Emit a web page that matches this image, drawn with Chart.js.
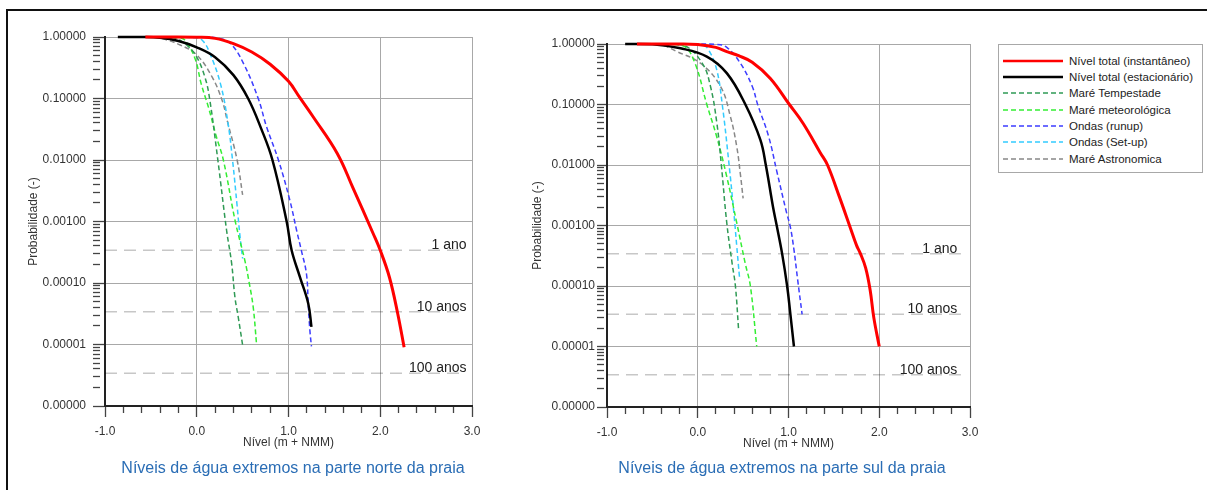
<!DOCTYPE html>
<html><head><meta charset="utf-8">
<script src="https://cdn.jsdelivr.net/npm/chart.js@4.4.1/dist/chart.umd.min.js"></script>
<style>
html,body{margin:0;padding:0;background:#fff;}
body{width:1207px;height:490px;position:relative;overflow:hidden;font-family:"Liberation Sans",Arial,sans-serif;}
#frameL{position:absolute;left:6px;top:9px;width:2px;height:481px;background:#111;}
#frameT{position:absolute;left:6px;top:9px;width:1201px;height:2px;background:#111;}
canvas{position:absolute;}
.cap{position:absolute;top:459px;line-height:18px;font-size:16px;color:#2a6db5;text-align:center;white-space:nowrap;}
#legend{position:absolute;left:998px;top:44px;width:205px;height:129px;border:1px solid #a8a8a8;box-sizing:border-box;}
.row{position:absolute;left:4px;height:16px;display:flex;align-items:center;font-size:11.5px;color:#222;white-space:nowrap;}
.row svg{margin-right:6px;display:block;}
</style></head>
<body>
<div id="frameL"></div><div id="frameT"></div>
<canvas id="cNorte" width="490" height="440" style="left:0px;top:20px"></canvas>
<canvas id="cSul" width="490" height="440" style="left:500px;top:20px"></canvas>
<div class="cap" style="left:0px;width:586px">Níveis de água extremos na parte norte da praia</div>
<div class="cap" style="left:500px;width:564px">Níveis de água extremos na parte sul da praia</div>
<div id="legend"></div>
<script>
// ---------- DATA ----------
const seriesNames = ['Nível total (instantâneo)','Nível total (estacionário)','Maré Tempestade','Maré meteorológica','Ondas (runup)','Ondas (Set-up)','Maré Astronomica'];

// Parte norte: [nível (m + NMM), probabilidade]
const norteInstantaneo = [[-0.56,1.0],[-0.3,0.9995],[0.0,0.99],[0.2,0.95],[0.4,0.78],[0.6,0.57],[0.8,0.36],[1.0,0.19],[1.12,0.105],[1.27,0.05],[1.53,0.0129],[1.7,0.0036],[1.92,0.00065],[2.0,0.00034],[2.1,0.000124],[2.19,0.000032],[2.26,0.000009]];
const norteEstacionario = [[-0.86,1.0],[-0.6,0.999],[-0.4,0.97],[-0.2,0.86],[0.0,0.68],[0.2,0.47],[0.4,0.24],[0.56,0.1],[0.7,0.033],[0.825,0.01],[0.98,0.001],[1.034,0.00034],[1.124,0.000126],[1.215,0.0000465],[1.25,0.0000194]];
const norteTempestade = [[-0.45,1.0],[-0.25,0.97],[-0.11,0.74],[0.0,0.47],[0.09,0.22],[0.14,0.1],[0.23,0.01],[0.325,0.00072],[0.38,0.00021],[0.416,0.000059],[0.452,0.000028],[0.5,0.0000098]];
const norteMeteorologica = [[-0.35,1.0],[-0.22,0.98],[-0.13,0.89],[-0.02,0.45],[0.05,0.17],[0.13,0.07],[0.21,0.025],[0.29,0.01],[0.42,0.001],[0.525,0.00023],[0.572,0.0001],[0.615,0.000041],[0.652,0.00001]];
const norteRunup = [[-0.1,1.0],[0.1,0.995],[0.25,0.95],[0.37,0.78],[0.51,0.37],[0.67,0.1],[0.76,0.035],[0.89,0.01],[1.015,0.0022],[1.09,0.0007],[1.14,0.00034],[1.196,0.00014],[1.215,0.000046],[1.233,0.000017],[1.25,0.0000093]];
const norteSetup = [[-0.3,1.0],[0.0,0.97],[0.07,0.85],[0.144,0.54],[0.26,0.17],[0.34,0.04],[0.39,0.01],[0.44,0.0018],[0.47,0.0006],[0.5,0.00025]];
const norteAstronomica = [[-0.55,1.0],[-0.4,0.96],[-0.18,0.74],[0.0,0.51],[0.17,0.22],[0.28,0.09],[0.33,0.045],[0.44,0.01],[0.5,0.0027]];

// Parte sul
const sulInstantaneo = [[-0.67,1.0],[-0.2,0.999],[0.0,0.985],[0.2,0.88],[0.32,0.75],[0.45,0.64],[0.6,0.5],[0.8,0.27],[1.01,0.1],[1.16,0.049],[1.35,0.016],[1.43,0.01],[1.56,0.003],[1.68,0.00093],[1.75,0.00047],[1.79,0.00035],[1.85,0.0002],[1.9,0.000085],[1.94,0.00003],[2.0,0.00001]];
const sulEstacionario = [[-0.8,1.0],[-0.5,0.995],[-0.19,0.85],[0.1,0.62],[0.32,0.33],[0.525,0.1],[0.69,0.026],[0.75,0.01],[0.83,0.002],[0.87,0.001],[0.93,0.00034],[0.985,0.0001],[1.02,0.000035],[1.06,0.00001]];
const sulTempestade = [[-0.4,1.0],[-0.15,0.95],[0.05,0.48],[0.14,0.2],[0.21,0.05],[0.26,0.01],[0.32,0.0011],[0.38,0.00023],[0.415,0.0001],[0.45,0.000019]];
const sulMeteorologica = [[-0.35,1.0],[-0.15,0.92],[-0.03,0.48],[0.1,0.1],[0.21,0.029],[0.32,0.0064],[0.43,0.0011],[0.525,0.00023],[0.58,0.0001],[0.65,0.00001]];
const sulRunup = [[-0.05,1.0],[0.2,0.99],[0.32,0.88],[0.47,0.48],[0.6,0.2],[0.66,0.1],[0.78,0.03],[0.87,0.008],[0.98,0.0016],[1.02,0.00095],[1.06,0.0004],[1.1,0.00013],[1.15,0.000034]];
const sulSetup = [[-0.2,1.0],[0.05,0.97],[0.12,0.8],[0.21,0.37],[0.27,0.1],[0.34,0.012],[0.4,0.0015],[0.43,0.00045],[0.46,0.00014]];
const sulAstronomica = [[-0.55,1.0],[-0.4,0.97],[-0.23,0.75],[0.03,0.48],[0.25,0.2],[0.36,0.063],[0.43,0.02],[0.47,0.007],[0.5,0.0028]];

// Períodos de retorno
const returnLabels = ['1 ano','10 anos','100 anos'];
const returnProb = [3.42e-4, 3.42e-5, 3.42e-6];

// Ticks
const yTickValues = [1, 0.1, 0.01, 0.001, 0.0001, 0.00001, 0.000001];
const xTickValues = [-1.0,-0.8,-0.6,-0.4,-0.2,0.0,0.2,0.4,0.6,0.8,1.0,1.2,1.4,1.6,1.8,2.0,2.2,2.4,2.6,2.8,3.0];

// ---------- STYLE ----------
const styles = [
  {color:'#ff0000', width:3,   dash:[]},
  {color:'#000000', width:2.5, dash:[]},
  {color:'#2f9a55', width:1.5, dash:[5,3]},
  {color:'#33ee33', width:1.5, dash:[5,3]},
  {color:'#3d3dff', width:1.5, dash:[5,3]},
  {color:'#33ccff', width:1.5, dash:[5,3]},
  {color:'#888888', width:1.5, dash:[5,3]}
];
const FONT = '"Liberation Sans", Arial, sans-serif';
Chart.defaults.font.family = FONT;

const yAllTicks = [];
yTickValues.slice(1).forEach(d => { for (let k = 1; k <= 9; k++) yAllTicks.push(k * d); });
yAllTicks.push(1);

function isDecade(v){ const l = Math.log10(v); return Math.abs(l - Math.round(l)) < 1e-6; }
function isInt(v){ return Math.abs(v - Math.round(v)) < 1e-6; }

const periodPlugin = {
  id: 'periods',
  afterDatasetsDraw(chart, args, opts){
    const {ctx, scales:{x, y}} = chart;
    ctx.save();
    ctx.font = '14px ' + FONT;
    ctx.fillStyle = '#222';
    ctx.textAlign = 'right';
    ctx.textBaseline = 'alphabetic';
    returnLabels.forEach((t, i) => {
      ctx.fillText(t, x.getPixelForValue(opts.labelX), y.getPixelForValue(returnProb[i]) - 1);
    });
    ctx.restore();
  }
};

function makeChart(id, series, cfg){
  const datasets = series.map((pts, i) => ({
    label: seriesNames[i],
    data: pts.map(([x, y]) => ({x, y})),
    borderColor: styles[i].color,
    borderWidth: styles[i].width,
    borderDash: styles[i].dash,
    pointRadius: 0,
    fill: false,
    tension: 0.4,
    clip: false
  }));
  returnProb.forEach(p => datasets.push({
    label: 'ret', data: [{x:-1, y:p}, {x:2.9, y:p}],
    borderColor: 'rgba(0,0,0,0.22)', borderWidth: 1.5, borderDash: [12,7],
    pointRadius: 0, fill: false, tension: 0
  }));
  new Chart(document.getElementById(id), {
    type: 'line',
    data: {datasets},
    plugins: [periodPlugin],
    options: {
      responsive: false, animation: false, devicePixelRatio: 1,
      layout: {padding: cfg.padding},
      plugins: {legend: {display: false}, tooltip: {enabled: false}, periods: {labelX: cfg.labelX}},
      scales: {
        x: {
          type: 'linear', min: -1, max: 3,
          afterBuildTicks: s => { s.ticks = xTickValues.map(v => ({value: v})); },
          afterFit: s => { s.height = 44; },
          ticks: {autoSkip: false, maxRotation: 0, padding: 7, font: {size: 12}, color: '#333',
                  callback: v => isInt(v) ? Number(v).toFixed(1) : ''},
          grid: {
            color: c => (c.tick && isInt(c.tick.value) && c.tick.value > -1) ? '#a8a8a8' : 'rgba(0,0,0,0)',
            lineWidth: 1, tickColor: '#444', tickLength: 11, tickWidth: 1.3,
            tickBorderDash: c => (c.tick && isInt(c.tick.value)) ? [] : [6, 40]
          },
          border: {color: '#222', width: 2},
          title: {display: true, text: 'Nível (m + NMM)', font: {size: 12}, color: '#333', padding: {top: 0, bottom: 0}}
        },
        y: {
          type: 'logarithmic', min: 0.000001, max: 1,
          afterBuildTicks: s => { s.ticks = yAllTicks.map(v => ({value: v})); },
          afterFit: s => { s.width = cfg.yWidth; },
          ticks: {autoSkip: false, padding: cfg.yTickPad, font: {size: 12}, color: '#333',
                  callback: v => isDecade(v) ? Number(v).toFixed(5) : ''},
          grid: {
            color: c => (c.tick && isDecade(c.tick.value)) ? '#a8a8a8' : 'rgba(0,0,0,0)',
            lineWidth: 1, tickColor: '#444', tickLength: cfg.yTickLen, tickWidth: 1.3,
            tickBorderDash: c => (c.tick && isDecade(c.tick.value)) ? [] : [7, 40]
          },
          border: {color: '#222', width: 2},
          title: {display: true, text: 'Probabilidade (-)', font: {size: 12}, color: '#333', padding: {top: cfg.yTitlePad, bottom: 0}}
        }
      }
    }
  });
}

makeChart('cNorte',
  [norteInstantaneo, norteEstacionario, norteTempestade, norteMeteorologica, norteRunup, norteSetup, norteAstronomica],
  {padding: {left: 0, top: 17, right: 18, bottom: 10}, yWidth: 105, yTickPad: 7, yTickLen: 12, yTitlePad: 26, labelX: 2.94});
makeChart('cSul',
  [sulInstantaneo, sulEstacionario, sulTempestade, sulMeteorologica, sulRunup, sulSetup, sulAstronomica],
  {padding: {left: 0, top: 24, right: 20, bottom: 9}, yWidth: 107, yTickPad: 2, yTickLen: 10, yTitlePad: 30, labelX: 2.86});

// Legend
const lg = document.getElementById('legend');
seriesNames.forEach((name, i) => {
  const row = document.createElement('div');
  row.className = 'row';
  row.style.top = (7.7 + i * 16.3) + 'px';
  const st = styles[i];
  row.innerHTML = '<svg width="60" height="6"><line x1="0" y1="3" x2="60" y2="3" stroke="' + st.color +
    '" stroke-width="' + (st.width === 1.5 ? 1.5 : 2.5) + '" stroke-dasharray="' + (st.dash.length ? st.dash.join(',') : 'none') + '"/></svg>';
  const sp = document.createElement('span');
  sp.textContent = name;
  row.appendChild(sp);
  lg.appendChild(row);
});
</script>
</body></html>
